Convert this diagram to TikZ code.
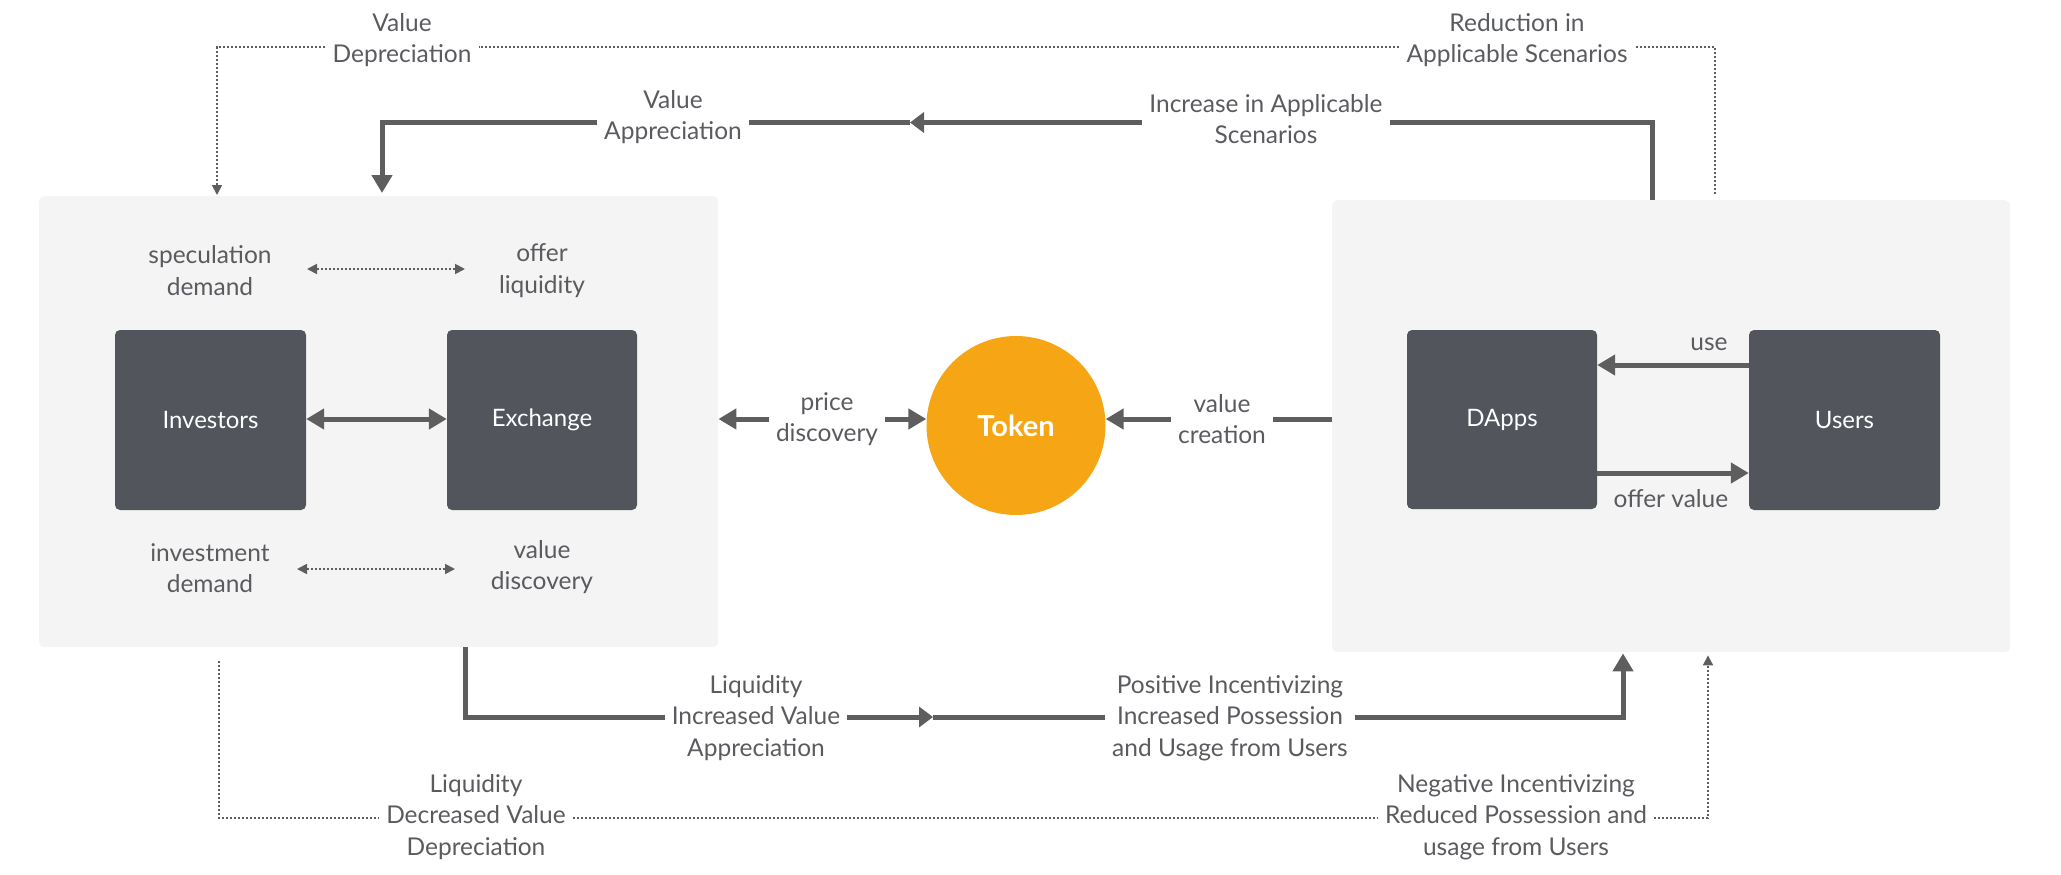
\documentclass[tikz,border=0pt]{standalone}
\usepackage{fontspec}
\setmainfont{Lato}
\usetikzlibrary{arrows.meta,calc}
\definecolor{panelgray}{HTML}{F4F4F4}
\definecolor{boxgray}{HTML}{52555C}
\definecolor{linegray}{HTML}{5E5E5E}
\definecolor{txtgray}{HTML}{5A5B5F}
\definecolor{tokenorange}{HTML}{F6A614}
\begin{document}
\begin{tikzpicture}[x=1pt,y=-1pt,
  panel/.style={fill=panelgray, rounded corners=5pt, inner sep=0pt},
  block/.style={fill=boxgray, rounded corners=5pt, text=white, inner sep=0pt,
    font=\fontsize{24}{28}\selectfont},
  lbl/.style={text=txtgray, align=center, inner xsep=7pt, inner ysep=0pt,
    font=\fontsize{24.5}{31.5}\selectfont},
  thickline/.style={draw=linegray, line width=5pt},
  dotline/.style={draw=linegray, line width=1.8pt, dash pattern=on 2pt off 2pt},
  bigtip/.tip={Triangle[length=18pt,width=20pt]},
  midtip/.tip={Triangle[length=14pt,width=20pt]},
  smalltip/.tip={Triangle[length=10pt,width=10pt]},
]
\useasboundingbox (0,0) rectangle (2061,875);

% panels
\node[panel, anchor=north west, minimum width=679pt, minimum height=451pt] (Lp) at (39,196) {};
\node[panel, anchor=north west, minimum width=678pt, minimum height=452pt] (Rp) at (1332,200) {};

% blocks
\node[block, minimum width=191pt, minimum height=180pt] (inv) at (210.5,420) {Investors};
\node[block, minimum width=190pt, minimum height=180pt] (ex) at (542,420) {Exchange};
\node[block, minimum width=190pt, minimum height=179pt] (dapps) at (1502,419.5) {DApps};
\node[block, minimum width=191pt, minimum height=180pt] (users) at (1844.5,420) {Users};

% token
\node[circle, fill=tokenorange, minimum size=179pt, inner sep=0pt, text=white,
  font=\fontsize{29}{34}\selectfont\bfseries] (tok) at (1016,425.5) {Token};

% labels
\node[lbl] (vd) at (402,40) {Value\\Depreciation};
\node[lbl] (rd) at (1517,40) {Reduction in\\Applicable Scenarios};
\node[lbl] (va) at (673,117) {Value\\Appreciation};
\node[lbl] (inc) at (1266,119) {Increase in Applicable\\Scenarios};
\node[lbl] (spec) at (210,270.5) {speculation\\demand};
\node[lbl] (ol) at (542,270.5) {offer\\liquidity};
\node[lbl] (idm) at (210,568) {investment\\demand};
\node[lbl] (vdsc) at (542,567) {value\\discovery};
\node[lbl] (pd) at (827,419) {price\\discovery};
\node[lbl] (vc) at (1222,419) {value\\creation};
\node[lbl] (use) at (1709,344) {use};
\node[lbl] (ov) at (1671,499) {offer value};
\node[lbl] (li) at (756,718) {Liquidity\\Increased Value\\Appreciation};
\node[lbl] (pos) at (1230,718) {Positive Incentivizing\\Increased Possession\\and Usage from Users};
\node[lbl] (ld) at (476,817) {Liquidity\\Decreased Value\\Depreciation};
\node[lbl] (neg) at (1516,817) {Negative Incentivizing\\Reduced Possession and\\usage from Users};

% helper coordinates
\coordinate (tl) at (0,47);
\coordinate (tt) at (0,122.5);
\coordinate (ay) at (0,419);
\coordinate (bt) at (0,717);
\coordinate (dt) at (0,818);
\coordinate (m1) at (910,122.5);
\coordinate (m2) at (933,717);
\coordinate (rtop) at ($(Rp.north west)+(383,-6)$);
\coordinate (ltip) at ($(Lp.north west)+(178,-1)$);
\coordinate (lbot) at ($(Lp.south west)+(180,14)$);
\coordinate (rtip) at ($(Rp.south west)+(376,3)$);

% top dotted: reduction in applicable scenarios -> value depreciation
\draw[dotline] (rtop) |- (rd.east |- tl);
\draw[dotline] (rd.west |- tl) -- (vd.east |- tl);
\draw[dotline, -smalltip] (vd.west |- tl) -| (ltip);

% top thick: increase in applicable scenarios -> value appreciation
\draw[thickline] ($(Rp.north west)+(320,0)$) |- (inc.east |- tt);
\draw[thickline, -midtip] (inc.west |- tt) -- (m1);
\draw[thickline] (m1) -- (va.east |- tt);
\draw[thickline, -bigtip] (va.west |- tt) -| ($(Lp.north west)+(343,-3)$);

% price discovery
\draw[thickline, -bigtip] (pd.west |- ay) -- (Lp.east |- ay);
\draw[thickline, -bigtip] (pd.east |- ay) -- (tok.west |- ay);

% value creation
\draw[thickline] (Rp.west |- ay) -- (vc.east |- ay);
\draw[thickline, -bigtip] (vc.west |- ay) -- (tok.east |- ay);

% investors <-> exchange
\draw[thickline, bigtip-bigtip] (inv.east |- ay) -- (ex.west |- ay);

% users / dapps
\draw[thickline, -bigtip] ($(users.west)+(0,-55)$) -- ($(dapps.east)+(0,-54.5)$);
\draw[thickline, -bigtip] ($(dapps.east)+(0,53.5)$) -- ($(users.west)+(0,53)$);

% dotted doubles in left panel
\draw[dotline, smalltip-smalltip] ($(spec.center)+(97,-1.5)$) -- ($(ol.center)+(-77,-1.5)$);
\draw[dotline, smalltip-smalltip] ($(idm.center)+(87,1)$) -- ($(vdsc.center)+(-87,2)$);

% bottom thick
\draw[thickline] ($(Lp.south west)+(426,0)$) |- (li.west |- bt);
\draw[thickline, -midtip] (li.east |- bt) -- (m2);
\draw[thickline] (m2) -- (pos.west |- bt);
\draw[thickline, -bigtip] (pos.east |- bt) -| ($(Rp.south west)+(291,1)$);

% bottom dotted
\draw[dotline] (lbot) |- (ld.west |- dt);
\draw[dotline] (ld.east |- dt) -- (neg.west |- dt);
\draw[dotline, -smalltip] (neg.east |- dt) -| (rtip);
\end{tikzpicture}
\end{document}
